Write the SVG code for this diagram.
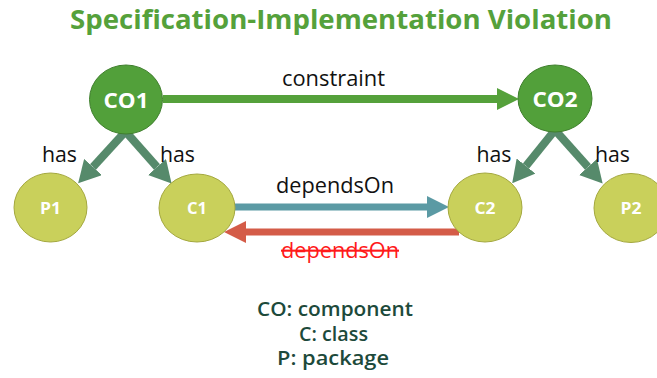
<svg xmlns="http://www.w3.org/2000/svg" width="657" height="378" viewBox="0 0 657 378">
<style>
text{font-family:"Open Sans","Noto Sans","Liberation Sans",sans-serif;}
.title{font-size:27px;font-weight:bold;fill:#55a13b;}
.lbl{font-size:21px;fill:#111;}
.co{fill:#52a03a;stroke:#3f7f2d;stroke-width:1;}
.cp{fill:#c9d05b;stroke:#a4a83f;stroke-width:1;}
.nt{fill:#fff;font-weight:bold;text-anchor:middle;}
.leg{font-size:19px;font-weight:600;fill:#1d4a3b;text-anchor:middle;}
.has{stroke:#568a6b;stroke-width:8;fill:none;}
</style>
<defs>
<marker id="mg" viewBox="0 0 22 22" refX="0" refY="11" markerWidth="22" markerHeight="22" markerUnits="userSpaceOnUse" orient="auto"><path d="M0,0 L22,11 L0,22 z" fill="#55a13b"/></marker>
<marker id="mh" viewBox="0 0 22 24" refX="0" refY="12" markerWidth="22" markerHeight="24" markerUnits="userSpaceOnUse" orient="auto"><path d="M0,0 L22,12 L0,24 z" fill="#568a6b"/></marker>
<marker id="mb" viewBox="0 0 22 22" refX="0" refY="11" markerWidth="22" markerHeight="22" markerUnits="userSpaceOnUse" orient="auto"><path d="M0,0 L22,11 L0,22 z" fill="#5b9aa4"/></marker>
<marker id="mr" viewBox="0 0 22 22" refX="0" refY="11" markerWidth="22" markerHeight="22" markerUnits="userSpaceOnUse" orient="auto"><path d="M0,0 L22,11 L0,22 z" fill="#d45c48"/></marker>
</defs>
<text class="title" x="341" y="29" text-anchor="middle" textLength="542" lengthAdjust="spacingAndGlyphs">Specification-Implementation Violation</text>
<g id="connectors">
<line x1="163" y1="99" x2="497" y2="99" stroke="#55a13b" stroke-width="8" marker-end="url(#mg)"/>
<line x1="235" y1="207" x2="427" y2="207" stroke="#5b9aa4" stroke-width="7" marker-end="url(#mb)"/>
<line x1="459" y1="232" x2="246" y2="232" stroke="#d45c48" stroke-width="7" marker-end="url(#mr)"/>
<line class="has" x1="125" y1="132" x2="93" y2="167" marker-end="url(#mh)"/>
<line class="has" x1="126" y1="132" x2="157" y2="167" marker-end="url(#mh)"/>
<line class="has" x1="555" y1="130" x2="526" y2="166" marker-end="url(#mh)"/>
<line class="has" x1="555" y1="130" x2="588" y2="167" marker-end="url(#mh)"/>
<text class="lbl" x="333.5" y="86" text-anchor="middle" textLength="103" lengthAdjust="spacingAndGlyphs">constraint</text>
<text class="lbl" x="335" y="193" text-anchor="middle" textLength="118" lengthAdjust="spacingAndGlyphs">dependsOn</text>
<text class="lbl" x="340" y="258" text-anchor="middle" textLength="118" lengthAdjust="spacingAndGlyphs" style="fill:#ff1a1a;text-decoration:line-through;">dependsOn</text>
<text class="lbl" x="59.5" y="162" text-anchor="middle" textLength="35" lengthAdjust="spacingAndGlyphs">has</text>
<text class="lbl" x="177.5" y="162" text-anchor="middle" textLength="35" lengthAdjust="spacingAndGlyphs">has</text>
<text class="lbl" x="494" y="162" text-anchor="middle" textLength="35" lengthAdjust="spacingAndGlyphs">has</text>
<text class="lbl" x="612.5" y="162" text-anchor="middle" textLength="35" lengthAdjust="spacingAndGlyphs">has</text>
</g>
<g id="CO1"><ellipse class="co" cx="126" cy="99.5" rx="36.5" ry="34.5"/><text class="nt" x="126" y="107.5" font-size="22" textLength="45" lengthAdjust="spacingAndGlyphs">CO1</text></g>
<g id="CO2"><ellipse class="co" cx="555" cy="98.5" rx="37" ry="33.5"/><text class="nt" x="555" y="106.5" font-size="22" textLength="45" lengthAdjust="spacingAndGlyphs">CO2</text></g>
<g id="P1"><ellipse class="cp" cx="50.5" cy="207.5" rx="36.5" ry="34.5"/><text class="nt" x="50.5" y="213.5" font-size="16" textLength="21" lengthAdjust="spacingAndGlyphs">P1</text></g>
<g id="C1"><ellipse class="cp" cx="197" cy="208" rx="38" ry="34"/><text class="nt" x="197" y="213.5" font-size="16" textLength="20" lengthAdjust="spacingAndGlyphs">C1</text></g>
<g id="C2"><ellipse class="cp" cx="485" cy="207.5" rx="37" ry="34.5"/><text class="nt" x="485" y="213.5" font-size="16" textLength="21" lengthAdjust="spacingAndGlyphs">C2</text></g>
<g id="P2"><ellipse class="cp" cx="631" cy="208" rx="37" ry="34.5"/><text class="nt" x="631" y="213.5" font-size="16" textLength="21" lengthAdjust="spacingAndGlyphs">P2</text></g>
<g id="legend">
<text class="leg" x="335" y="316" textLength="156" lengthAdjust="spacingAndGlyphs">CO: component</text>
<text class="leg" x="333.5" y="341" textLength="69" lengthAdjust="spacingAndGlyphs">C: class</text>
<text class="leg" x="333" y="365" textLength="112" lengthAdjust="spacingAndGlyphs">P: package</text>
</g>
</svg>
